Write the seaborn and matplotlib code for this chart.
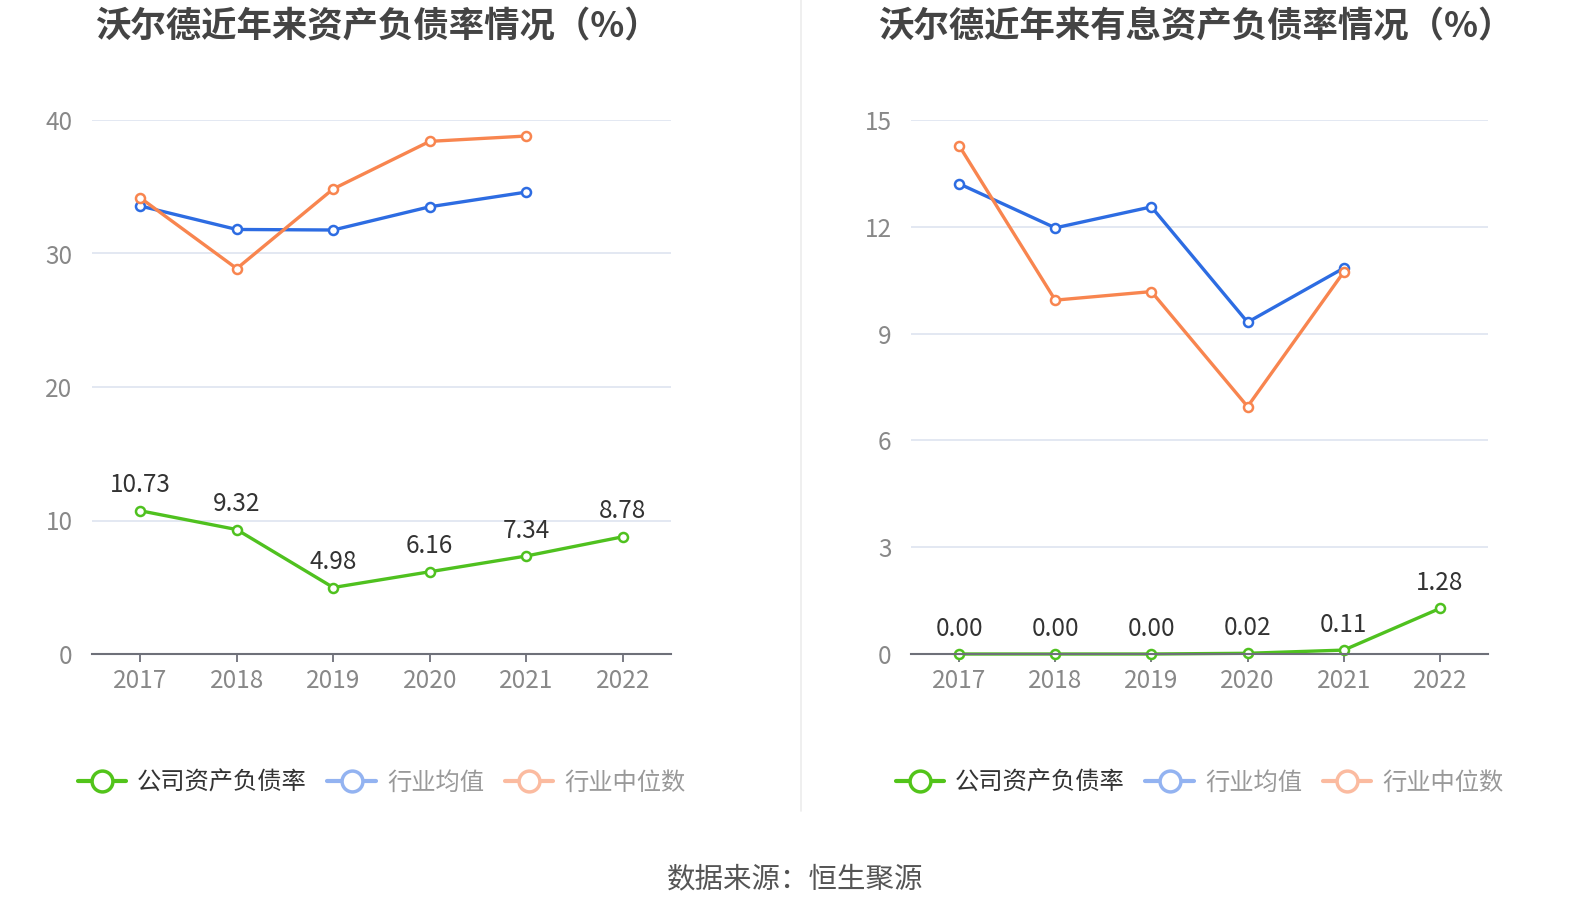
import numpy as np
import pandas as pd
import matplotlib
matplotlib.use('Agg')
import matplotlib.pyplot as plt
from matplotlib.lines import Line2D
import seaborn as sns

# Data
years = ['2017', '2018', '2019', '2020', '2021', '2022']

debt_company = [10.73, 9.32, 4.98, 6.16, 7.34, 8.78]
debt_mean = [33.56, 31.80, 31.76, 33.50, 34.60]
debt_median = [34.17, 28.87, 34.84, 38.40, 38.80]

int_company = [0.00, 0.00, 0.00, 0.02, 0.11, 1.28]
int_mean = [13.21, 11.97, 12.56, 9.32, 10.84]
int_median = [14.28, 9.94, 10.18, 6.95, 10.73]

series_names = ['公司资产负债率', '行业均值', '行业中位数']
titles = ['沃尔德近年来资产负债率情况（%）', '沃尔德近年来有息资产负债率情况（%）']
y_ticks = [[0, 10, 20, 30, 40], [0, 3, 6, 9, 12, 15]]

GREEN = '#4fc11f'
BLUE = '#2d6ce2'
ORANGE = '#f8854f'
GREEN_L = '#52c41a'
BLUE_L = '#93b3f1'
ORANGE_L = '#fbbba0'

sns.set_style('white')
plt.rcParams['font.family'] = ['Noto Sans CJK SC', 'DejaVu Sans']

fig = plt.figure(figsize=(15.9, 9.18), dpi=100)
W, H = 1590, 918


def axes_rect(x0, x1, y_top, y_bot):
    return [x0 / W, 1 - y_bot / H, (x1 - x0) / W, (y_bot - y_top) / H]


ax_left = fig.add_axes(axes_rect(92, 671, 120, 654))
ax_right = fig.add_axes(axes_rect(911, 1488, 120, 654))

panels = [
    (ax_left, debt_company, debt_mean, debt_median, y_ticks[0], titles[0]),
    (ax_right, int_company, int_mean, int_median, y_ticks[1], titles[1]),
]

for ax, comp, mean, med, yt, title in panels:
    df_c = pd.DataFrame({'x': np.arange(len(comp)), 'v': comp})
    df_m = pd.DataFrame({'x': np.arange(len(mean)), 'v': mean})
    df_d = pd.DataFrame({'x': np.arange(len(med)), 'v': med})

    for df, col in [(df_m, BLUE), (df_d, ORANGE), (df_c, GREEN)]:
        sns.lineplot(data=df, x='x', y='v', ax=ax, color=col, linewidth=2.4,
                     marker='o', markersize=6.5, markerfacecolor='white',
                     markeredgecolor=col, markeredgewidth=1.8, zorder=3,
                     clip_on=False)

    # value labels on company series
    for i, v in enumerate(comp):
        ax.annotate(f'{v:.2f}', (i, v), xytext=(0, 9), textcoords='offset points',
                    ha='center', va='bottom', fontsize=17.5, color='#333333')

    ax.set_xlim(-0.5, len(years) - 0.5)
    ax.set_ylim(yt[0], yt[-1])
    ax.set_xticks(np.arange(len(years)))
    ax.set_xticklabels(years)
    ax.set_yticks(yt)
    ax.set_yticklabels([str(t) for t in yt])
    ax.set_xlabel('')
    ax.set_ylabel('')

    ax.grid(axis='y', color='#e0e6f1', linewidth=1.3)
    ax.grid(axis='x', visible=False)
    for s in ['top', 'right', 'left']:
        ax.spines[s].set_visible(False)
    ax.spines['bottom'].set_color('#6e7079')
    ax.spines['bottom'].set_linewidth(1.5)
    ax.spines['bottom'].set_zorder(4)

    ax.tick_params(axis='x', length=6, width=1.3, color='#6e7079', direction='out',
                   bottom=True, pad=4, labelsize=17.5, labelcolor='#888888')
    ax.tick_params(axis='y', length=0, pad=14, labelsize=17.5, labelcolor='#888888')

    # title
    pos = ax.get_position()
    fig.text(pos.x0 + pos.width / 2 - 4 / W, 1 - 27 / H, title, ha='center',
             va='center', fontsize=25.5, fontweight='bold', color='#444444')

    # legend
    handles = [
        Line2D([0], [0], color=GREEN_L, linewidth=3, marker='o', markersize=15,
               markerfacecolor='white', markeredgecolor=GREEN_L, markeredgewidth=2.5),
        Line2D([0], [0], color=BLUE_L, linewidth=3, marker='o', markersize=15,
               markerfacecolor='white', markeredgecolor=BLUE_L, markeredgewidth=2.5),
        Line2D([0], [0], color=ORANGE_L, linewidth=3, marker='o', markersize=15,
               markerfacecolor='white', markeredgecolor=ORANGE_L, markeredgewidth=2.5),
    ]
    leg = ax.legend(handles, series_names, loc='center',
                    bbox_to_anchor=(pos.x0 + pos.width / 2, 1 - 783 / H),
                    bbox_transform=fig.transFigure, ncol=3, frameon=False,
                    fontsize=17.5, handlelength=2.0, handletextpad=0.45,
                    columnspacing=0.85)
    for t, c in zip(leg.get_texts(), ['#333333', '#999999', '#999999']):
        t.set_color(c)

# separator line between the two panels
fig.add_artist(Line2D([801 / W, 801 / W], [1.0, 1 - 811 / H],
                      transform=fig.transFigure, color='#ececec', linewidth=1.2))

# source
fig.text(795 / W, 1 - 879 / H, '数据来源：恒生聚源', ha='center', va='center',
         fontsize=20.5, color='#555555')

fig.savefig('out.png', dpi=100)
